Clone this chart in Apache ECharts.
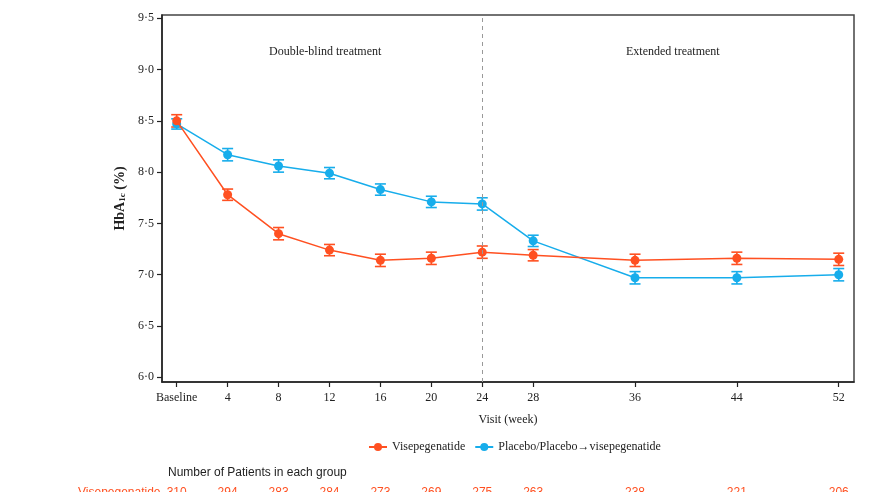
<!DOCTYPE html>
<html><head><meta charset="utf-8">
<script src="https://cdn.jsdelivr.net/npm/echarts@6/dist/echarts.min.js"></script>
<style>html,body{margin:0;padding:0;background:#fff}#c{width:870px;height:492px}</style>
</head><body><div id="c"></div>
<script>
const weeks = [0, 4, 8, 12, 16, 20, 24, 28, 36, 44, 52];
const weekLabels = ['Baseline', '4', '8', '12', '16', '20', '24', '28', '36', '44', '52'];
const visepegenatide = [8.50, 7.78, 7.40, 7.24, 7.14, 7.16, 7.22, 7.19, 7.14, 7.16, 7.15];
const visepegenatideSE = [0.06, 0.055, 0.06, 0.055, 0.06, 0.06, 0.06, 0.055, 0.06, 0.06, 0.06];
const placebo = [8.47, 8.17, 8.06, 7.99, 7.83, 7.71, 7.69, 7.33, 6.97, 6.97, 7.00];
const placeboSE = [0.05, 0.06, 0.06, 0.055, 0.055, 0.055, 0.06, 0.055, 0.06, 0.06, 0.06];
const yTicks = [6, 6.5, 7, 7.5, 8, 8.5, 9, 9.5];
const patientsVise = [310, 294, 283, 284, 273, 269, 275, 263, 238, 221, 206];
const switchWeek = 24;

const ORANGE = '#FF5021', BLUE = '#17ADEB';
const SERIF = '"Liberation Serif","Times New Roman",serif';
const SANS = '"Liberation Sans",Arial,sans-serif';

function errRender(color) {
  return function (params, api) {
    const x = api.value(0), y = api.value(1), e = api.value(2);
    const t = api.coord([x, y + e]), b = api.coord([x, y - e]);
    const w = 5.5;
    const style = { stroke: color, lineWidth: 1.6, fill: null };
    return { type: 'group', children: [
      { type: 'line', shape: { x1: t[0], y1: t[1], x2: b[0], y2: b[1] }, style },
      { type: 'line', shape: { x1: t[0] - w, y1: t[1], x2: t[0] + w, y2: t[1] }, style },
      { type: 'line', shape: { x1: b[0] - w, y1: b[1], x2: b[0] + w, y2: b[1] }, style }
    ]};
  };
}

const chart = echarts.init(document.getElementById('c'), null, { renderer: 'canvas' });
chart.setOption({
  animation: false,
  backgroundColor: '#fff',
  title: {
    text: 'Number of Patients in each group', left: 163, top: 462,
    textStyle: { fontFamily: SANS, fontSize: 12, fontWeight: 'normal', color: '#222' }
  },
  legend: {
    left: 363, top: 436, itemWidth: 18, itemHeight: 10, itemGap: 9,
    textStyle: { fontFamily: SERIF, fontSize: 12, color: '#222' },
    data: ['Visepegenatide', 'Placebo/Placebo→visepegenatide']
  },
  graphic: [
    { type: 'text', left: 269, top: 46, style: { text: 'Double-blind treatment', font: '12px ' + SERIF, fill: '#222' } },
    { type: 'text', left: 626, top: 46, style: { text: 'Extended treatment', font: '12px ' + SERIF, fill: '#222' } },
    { type: 'text', left: 78, top: 487, style: { text: 'Visepegenatide', font: '12px ' + SANS, fill: ORANGE } }
  ],
  grid: { left: 162, right: 16, top: 15, bottom: 110, show: true, borderColor: '#444', borderWidth: 1.5,
    containLabel: false, outerBoundsMode: 'none' },
  xAxis: [{
    type: 'value', min: -1.155, max: 53.2,
    name: 'Visit (week)', nameLocation: 'middle', nameGap: 32,
    nameTextStyle: { fontFamily: SERIF, fontSize: 12, color: '#222' },
    axisLine: { show: true, onZero: false, lineStyle: { color: '#222', width: 1.5 } },
    axisTick: { show: true, length: 5, customValues: weeks, lineStyle: { color: '#222', width: 1.2 } },
    axisLabel: { customValues: weeks, margin: 10, fontFamily: SERIF, fontSize: 12, color: '#222',
      formatter: v => weekLabels[weeks.indexOf(v)] },
    splitLine: { show: false }
  }, {
    type: 'value', min: -1.155, max: 53.2, position: 'bottom', offset: 97,
    axisLine: { show: false, onZero: false }, axisTick: { show: false }, splitLine: { show: false },
    axisLabel: { customValues: weeks, margin: 8, fontFamily: SANS, fontSize: 12, color: ORANGE,
      formatter: v => String(patientsVise[weeks.indexOf(v)]) }
  }],
  yAxis: {
    type: 'value', min: 5.954, max: 9.532,
    name: '{b|HbA}{s|1c}{b| (%)}', nameLocation: 'middle', nameGap: 34,
    nameTextStyle: { rich: {
      b: { fontFamily: SERIF, fontSize: 14, fontWeight: 'bold', color: '#222' },
      s: { fontFamily: SERIF, fontSize: 9, fontWeight: 'bold', color: '#222', verticalAlign: 'bottom', padding: [5, 0, 0, 0] }
    } },
    axisLine: { show: true, onZero: false, lineStyle: { color: '#222', width: 1.5 } },
    axisTick: { show: true, length: 5, customValues: yTicks, lineStyle: { color: '#222', width: 1.2 } },
    axisLabel: { customValues: yTicks, margin: 8, fontFamily: SERIF, fontSize: 12, color: '#222',
      formatter: v => v.toFixed(1).replace('.', '·') },
    splitLine: { show: false }
  },
  series: [
    { type: 'custom', name: 'errV', renderItem: errRender(ORANGE), z: 2, silent: true,
      data: weeks.map((w, i) => [w, visepegenatide[i], visepegenatideSE[i]]) },
    { type: 'custom', name: 'errP', renderItem: errRender(BLUE), z: 2, silent: true,
      data: weeks.map((w, i) => [w, placebo[i], placeboSE[i]]) },
    { type: 'line', name: 'Placebo/Placebo→visepegenatide', color: BLUE, z: 3,
      symbol: 'circle', symbolSize: 9, lineStyle: { width: 1.5, color: BLUE }, itemStyle: { color: BLUE },
      data: weeks.map((w, i) => [w, placebo[i]]) },
    { type: 'line', name: 'Visepegenatide', color: ORANGE, z: 4,
      symbol: 'circle', symbolSize: 9, lineStyle: { width: 1.5, color: ORANGE }, itemStyle: { color: ORANGE },
      data: weeks.map((w, i) => [w, visepegenatide[i]]),
      markLine: { silent: true, symbol: ['none', 'none'], label: { show: false },
        lineStyle: { type: [4, 4], color: '#999', width: 1 }, data: [{ xAxis: switchWeek }] } }
  ]
});
</script>
</body></html>
